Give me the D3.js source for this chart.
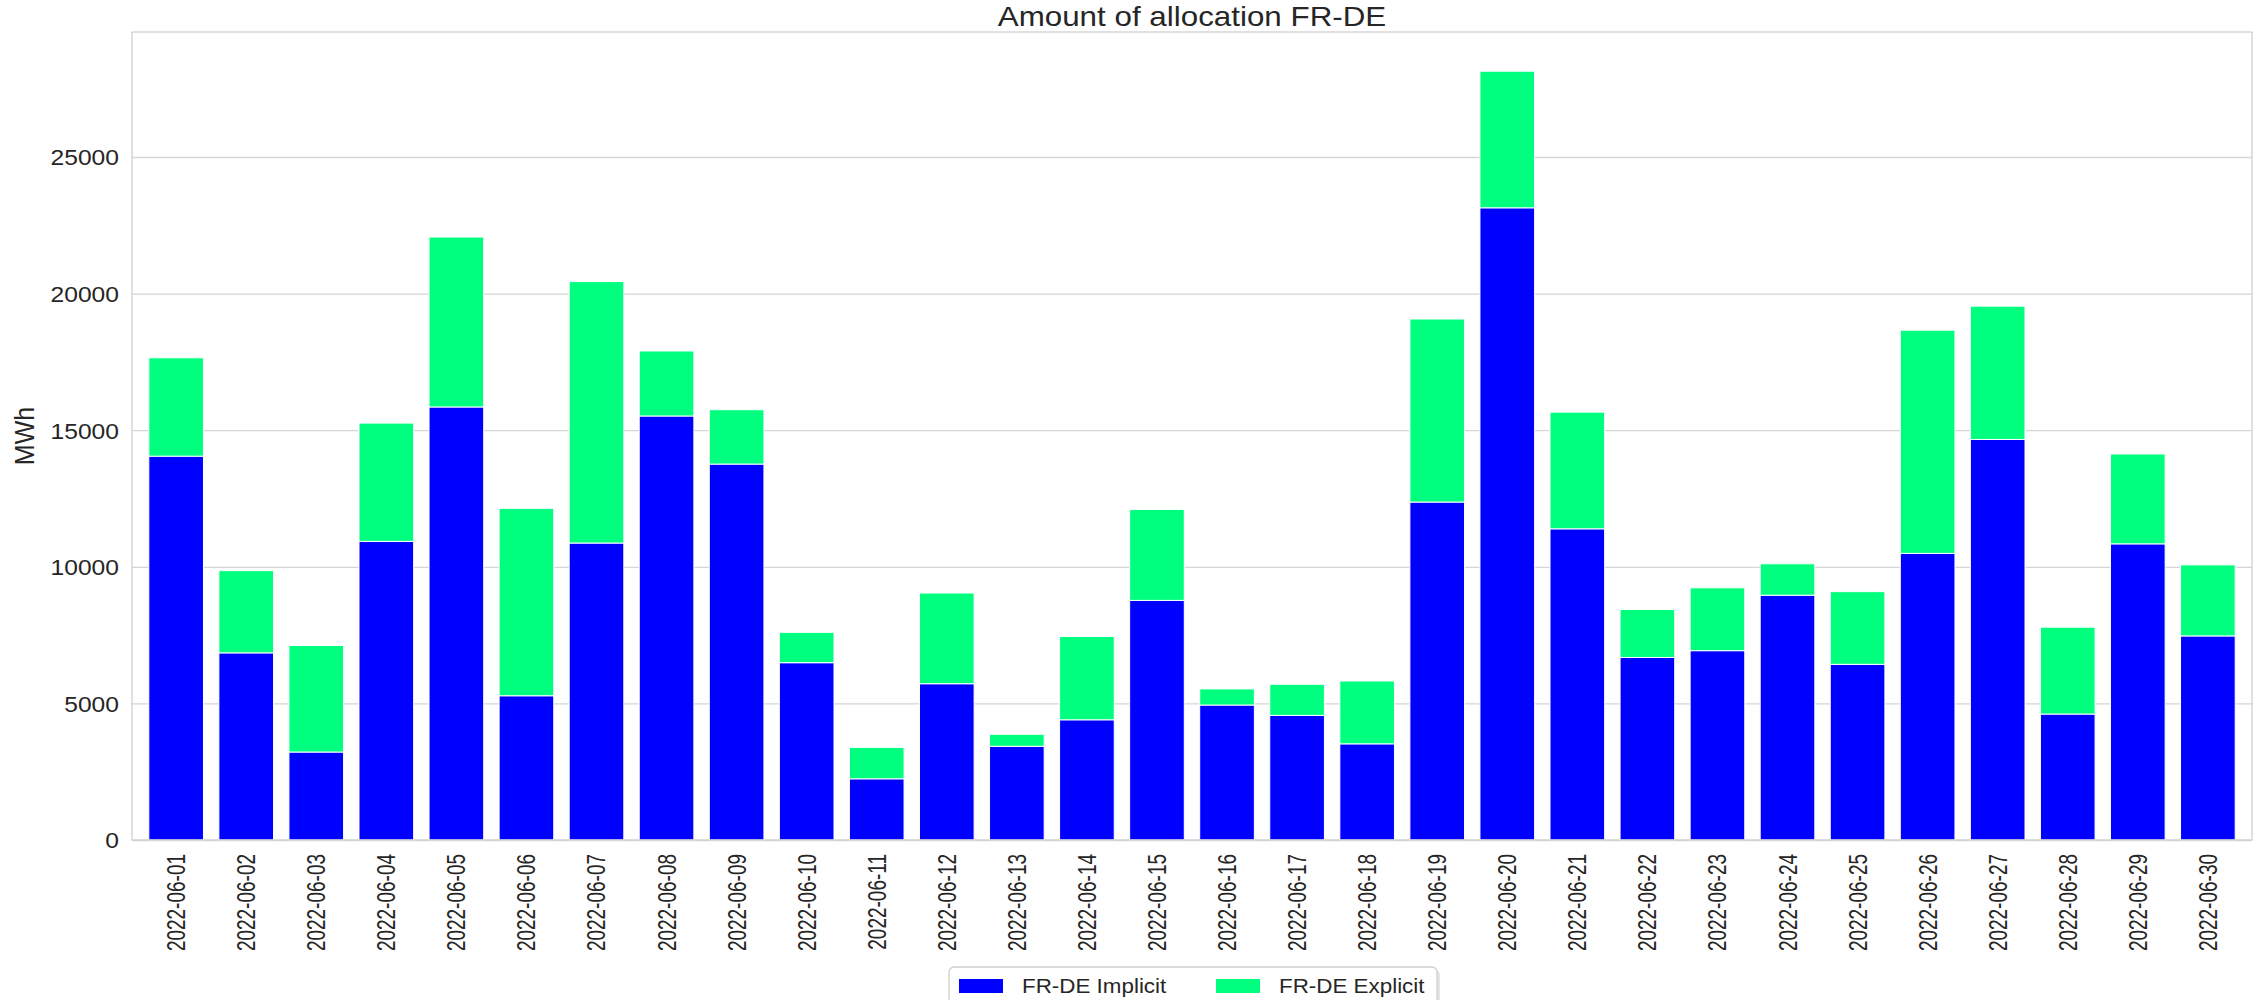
<!DOCTYPE html>
<html>
<head>
<meta charset="utf-8">
<script src="https://cdn.jsdelivr.net/npm/d3@7"></script>
<style>
  body { margin: 0; background: #fff; }
  text { font-family: "Liberation Sans", Arial, sans-serif; fill: #262626; }
</style>
</head>
<body>
<div id="chart"></div>
<script>
// values (MWh)
var dates = ["2022-06-01","2022-06-02","2022-06-03","2022-06-04","2022-06-05","2022-06-06",
  "2022-06-07","2022-06-08","2022-06-09","2022-06-10","2022-06-11","2022-06-12","2022-06-13",
  "2022-06-14","2022-06-15","2022-06-16","2022-06-17","2022-06-18","2022-06-19","2022-06-20",
  "2022-06-21","2022-06-22","2022-06-23","2022-06-24","2022-06-25","2022-06-26","2022-06-27",
  "2022-06-28","2022-06-29","2022-06-30"];
var implicitVals = [14050, 6850, 3220, 10930, 15850, 5280, 10870, 15520, 13760, 6490,
  2240, 5720, 3430, 4400, 8770, 4940, 4560, 3520, 12370, 23140,
  11390, 6680, 6930, 8960, 6430, 10490, 14660, 4610, 10840, 7470];
var explicitVals = [3600, 3010, 3900, 4330, 6220, 6860, 9570, 2380, 1990, 1110,
  1150, 3320, 440, 3050, 3330, 590, 1140, 2300, 6700, 5000,
  4270, 1760, 2300, 1150, 2660, 8170, 4880, 3180, 3290, 2600];
var seriesNames = ["FR-DE Implicit", "FR-DE Explicit"];
var seriesColors = ["#0000ff", "#00ff7f"];
var yTicks = [0, 5000, 10000, 15000, 20000, 25000];

var W = 2259, H = 1000;
var plot = {left: 132, right: 2252, top: 32, bottom: 840};
var sx = 1.12; // the reference text is a little wider than tall

var rows = dates.map(function(d, i) {
  return {date: d, implicit: implicitVals[i], explicit: explicitVals[i]};
});

var svg = d3.select("#chart").append("svg")
  .attr("width", W)
  .attr("height", H);

var x = d3.scaleBand()
  .domain(dates)
  .range([plot.left, plot.right])
  .paddingInner(0.22)
  .paddingOuter(0.24);

var y = d3.scaleLinear()
  .domain([0, 29575])
  .range([plot.bottom, plot.top]);

// grid
svg.append("g")
  .attr("transform", "translate(" + plot.left + ",0)")
  .call(d3.axisLeft(y).tickValues(yTicks).tickSize(-(plot.right - plot.left)).tickFormat(""))
  .call(function(g) {
    g.select(".domain").remove();
    g.selectAll("line").attr("stroke", "#d5d5d5").attr("stroke-width", 1.3);
  });

// stacked bars
var stack = d3.stack().keys(["implicit", "explicit"]);
var layers = stack(rows);

svg.append("g").selectAll("g")
  .data(layers)
  .enter().append("g")
  .attr("fill", function(d, i) { return seriesColors[i]; })
  .selectAll("rect")
  .data(function(d) { return d; })
  .enter().append("rect")
  .attr("x", function(d) { return x(d.data.date); })
  .attr("width", x.bandwidth())
  .attr("y", function(d) { return y(d[1]); })
  .attr("height", function(d) { return y(d[0]) - y(d[1]); })
  .attr("stroke", "#fff")
  .attr("stroke-width", 1);

// frame
svg.append("rect")
  .attr("x", plot.left).attr("y", plot.top)
  .attr("width", plot.right - plot.left)
  .attr("height", plot.bottom - plot.top)
  .attr("fill", "none")
  .attr("stroke", "#d0d0d0")
  .attr("stroke-width", 1.3);

// y tick labels
svg.append("g")
  .attr("transform", "translate(" + plot.left + ",0)")
  .call(d3.axisLeft(y).tickValues(yTicks).tickSize(0).tickPadding(0).tickFormat(d3.format("d")))
  .call(function(g) {
    g.select(".domain").remove();
    g.selectAll("text")
      .attr("x", -13 / sx)
      .attr("dy", "0.36em")
      .attr("transform", "scale(" + sx + ",1)")
      .style("font-size", "22px")
      .style("fill", "#262626");
  });

// x tick labels (condensed, rotated)
svg.append("g")
  .attr("transform", "translate(0," + plot.bottom + ")")
  .call(d3.axisBottom(x).tickSize(0).tickPadding(0))
  .call(function(g) {
    g.select(".domain").remove();
    g.selectAll("text")
      .attr("x", 0).attr("y", 0).attr("dy", null)
      .attr("text-anchor", "end")
      .attr("transform", "translate(9,14) rotate(-90) scale(0.76,1)")
      .style("font-size", "25px")
      .style("fill", "#262626");
  });

// title
svg.append("text")
  .attr("transform", "translate(" + ((plot.left + plot.right) / 2) + ",26) scale(" + sx + ",1)")
  .attr("text-anchor", "middle")
  .style("font-size", "28px")
  .text("Amount of allocation FR-DE");

// y label
svg.append("text")
  .attr("transform", "translate(34," + ((plot.top + plot.bottom) / 2) + ") scale(" + sx + ",1) rotate(-90)")
  .attr("text-anchor", "middle")
  .style("font-size", "25px")
  .text("MWh");

// legend
var lg = svg.append("g").attr("transform", "translate(949,967)");
lg.append("rect")
  .attr("x", 3).attr("y", 3).attr("width", 488).attr("height", 60)
  .attr("rx", 5).attr("fill", "#c8c8c8").attr("opacity", 0.5);
lg.append("rect")
  .attr("width", 488).attr("height", 60)
  .attr("rx", 5).attr("fill", "#fff")
  .attr("stroke", "#cfcfcf").attr("stroke-width", 1.3);

var items = lg.selectAll("g.item")
  .data(seriesNames)
  .enter().append("g")
  .attr("class", "item")
  .attr("transform", function(d, i) { return "translate(" + (10 + i * 257) + ",0)"; });

items.append("rect")
  .attr("y", 12).attr("width", 44).attr("height", 14)
  .attr("fill", function(d, i) { return seriesColors[i]; });

items.append("text")
  .attr("transform", "translate(63,26) scale(" + sx + ",1)")
  .style("font-size", "20px")
  .text(function(d) { return d; });
</script>
</body>
</html>
